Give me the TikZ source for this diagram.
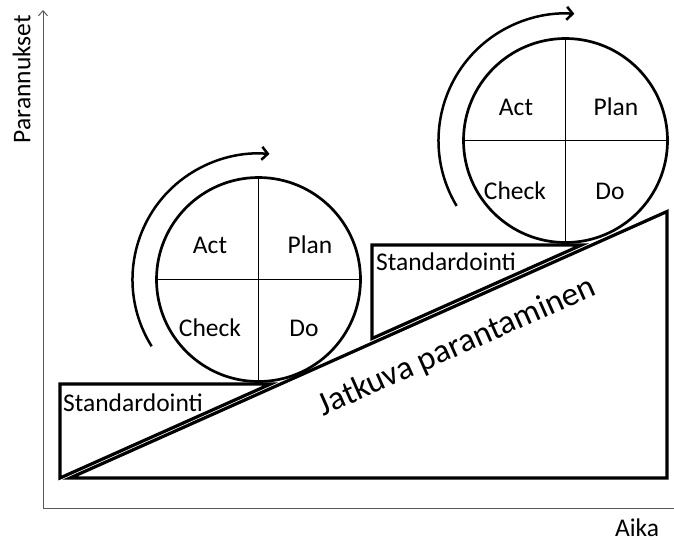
\documentclass[tikz,border=0pt]{standalone}
\usepackage{fontspec}
\setmainfont{Carlito}
\usetikzlibrary{arrows.meta}
\begin{document}
\begin{tikzpicture}[x=1pt,y=-1pt,
  thickline/.style={line width=3.2pt, line join=miter},
  pdcacircle/.style={circle, draw, line width=2.7pt, minimum size=204pt, inner sep=0pt},
  divider/.style={line width=0.9pt},
  cyclearrow/.style={line width=2.5pt, -{Straight Barb[length=6pt,width=13pt]}},
  lbl/.style={font=\fontsize{25.5}{30}\selectfont, inner sep=0pt},
  biglbl/.style={font=\fontsize{33.5}{38}\selectfont, inner sep=0pt},
  axisline/.style={line width=1pt, draw=black!65}]
\useasboundingbox (0,0) rectangle (674,539);

% axes
\coordinate (origin) at (43,508);
\coordinate (ytop) at (43,10);
\coordinate (xend) at (674,508);
\draw[axisline, -{Straight Barb[length=5pt,width=9pt]}] (origin) -- (ytop);
\draw[axisline] (origin) -- (xend);
\node[lbl, rotate=90] (ylabel) at (21.5,79) {Parannukset};
\node[lbl] (xlabel) at (637,528) {Aika};

% continuous improvement slope
\coordinate (tA) at (70,478);
\coordinate (tB) at (667,478);
\coordinate (tC) at (667,211.5);
\draw[thickline] (tA) -- (tB) -- (tC) -- cycle;
\node[biglbl, rotate=24] (slope) at (457,347) {Jatkuva parantaminen};

% standardisation wedges
\coordinate (s1a) at (60,384);
\coordinate (s1b) at (60,478);
\coordinate (s1c) at (270.6,384);
\draw[thickline] (s1c) -- (s1a) -- (s1b) -- cycle;
\node[lbl, anchor=west] (std1) at (63,403) {Standardointi};

\coordinate (s2a) at (372,245);
\coordinate (s2b) at (372,338.5);
\coordinate (s2c) at (581.5,245);
\draw[thickline] (s2c) -- (s2a) -- (s2b) -- cycle;
\node[lbl, anchor=west] (std2) at (376,262) {Standardointi};

% lower PDCA wheel
\node[pdcacircle] (c1) at (258.5,279.5) {};
\draw[divider] (c1.north) -- (c1.south);
\draw[divider] (c1.west) -- (c1.east);
\node[lbl] (act1) at (210,245) {Act};
\node[lbl] (plan1) at (310,245) {Plan};
\node[lbl] (check1) at (210,328) {Check};
\node[lbl] (do1) at (304,328) {Do};
\draw[cyclearrow] ([shift={(-212:126)}]c1.center) arc[start angle=-212, end angle=-85, radius=126];

% upper PDCA wheel
\node[pdcacircle] (c2) at (565.5,140.5) {};
\draw[divider] (c2.north) -- (c2.south);
\draw[divider] (c2.west) -- (c2.east);
\node[lbl] (act2) at (516,107) {Act};
\node[lbl] (plan2) at (616,107) {Plan};
\node[lbl] (check2) at (515,191) {Check};
\node[lbl] (do2) at (610,191) {Do};
\draw[cyclearrow] ([shift={(-211:127)}]c2.center) arc[start angle=-211, end angle=-86, radius=127];
\end{tikzpicture}
\end{document}
